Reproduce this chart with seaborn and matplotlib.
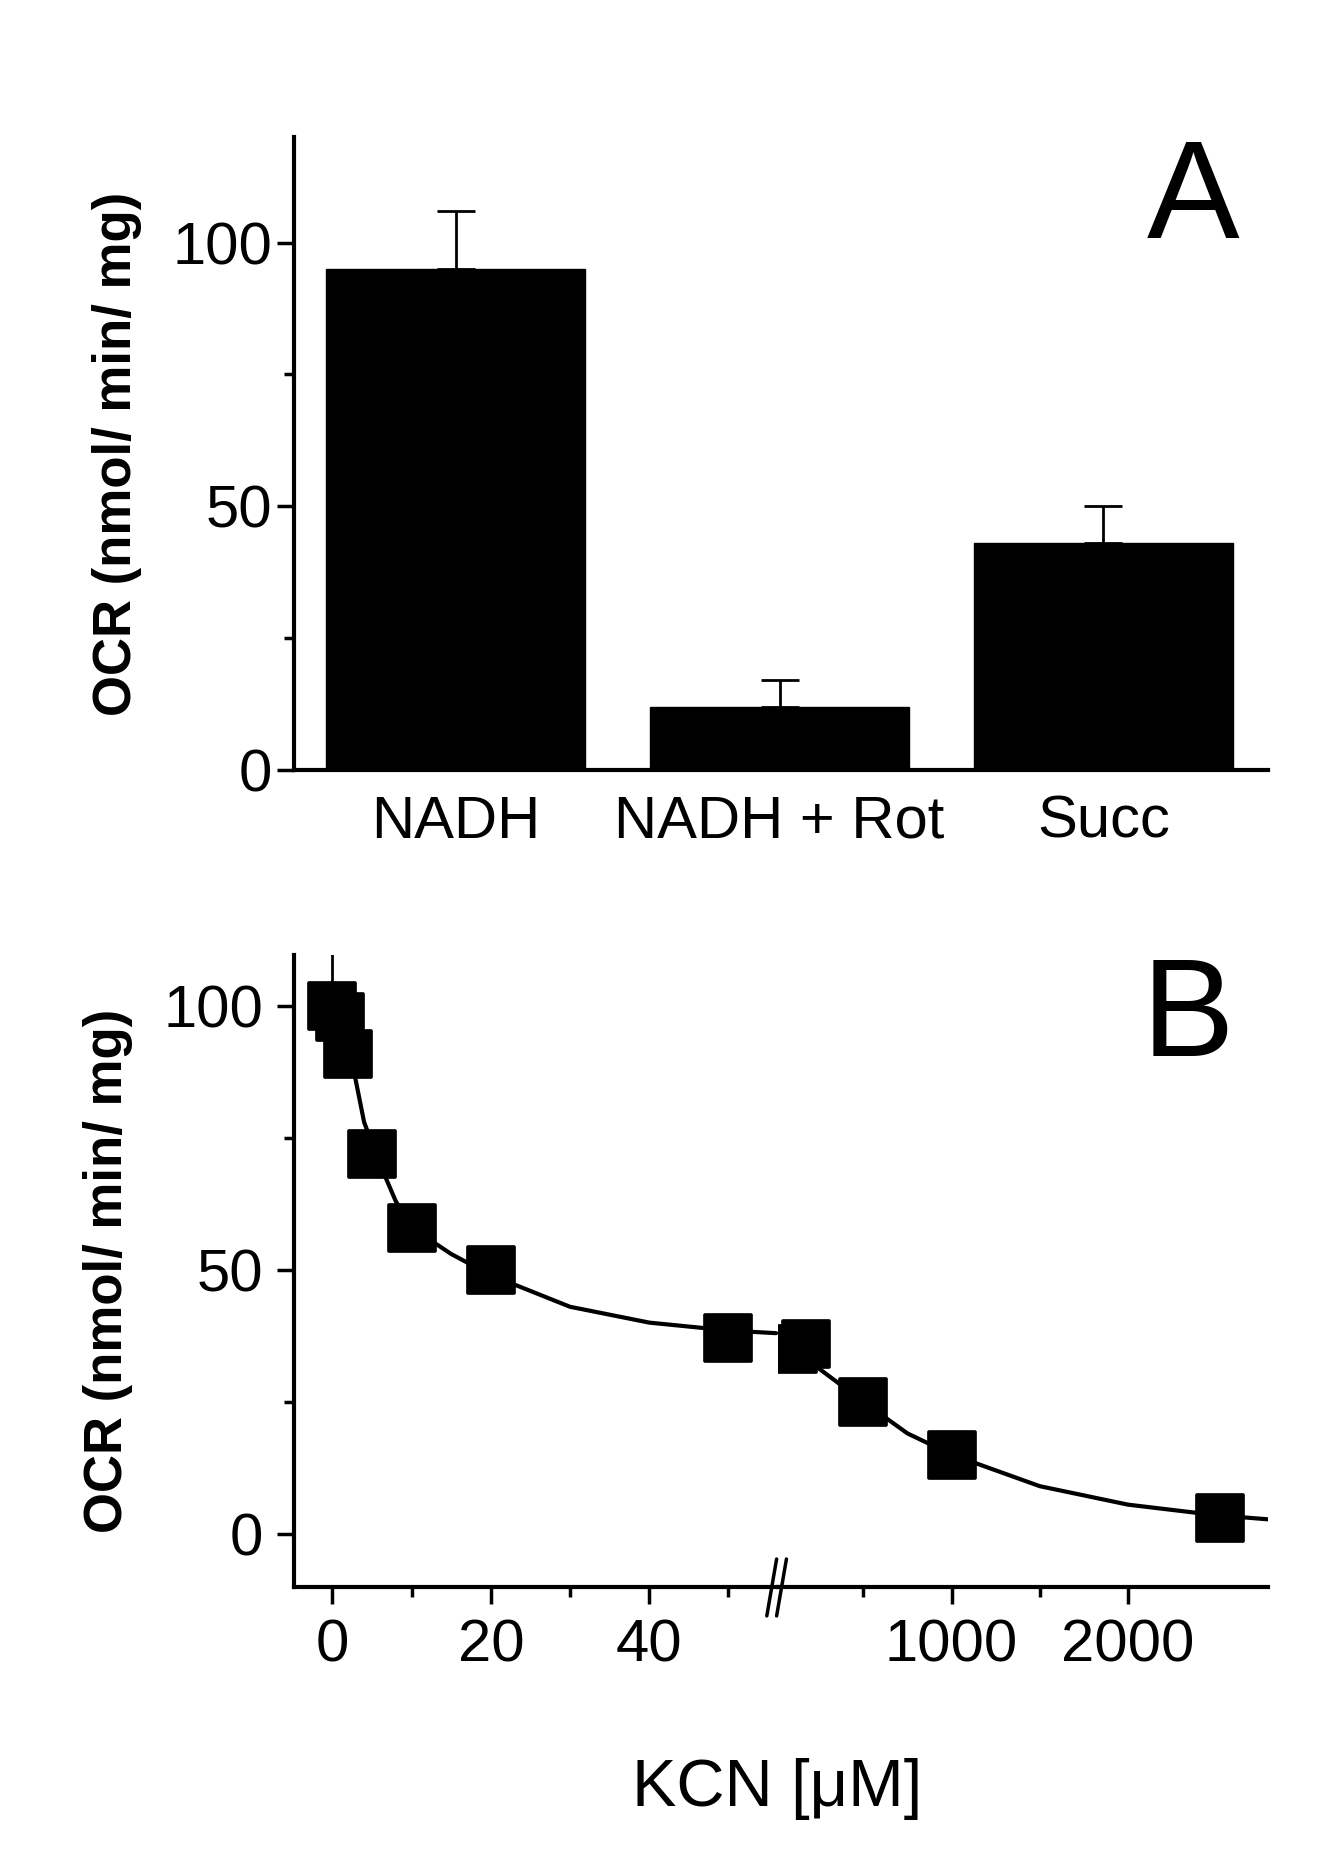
import matplotlib
matplotlib.use("Agg")
import matplotlib.pyplot as plt
import seaborn as sns
import pandas as pd

sns.set_style("ticks")
plt.rcParams["font.family"] = "Liberation Sans"
plt.rcParams["text.color"] = "black"
plt.rcParams["xtick.color"] = "black"
plt.rcParams["ytick.color"] = "black"
plt.rcParams["axes.labelcolor"] = "black"
plt.rcParams["axes.edgecolor"] = "black"

# Panel A data
categories = ["NADH", "NADH + Rot", "Succ"]
ocr_a = [95, 12, 43]
err_a = [11, 5, 7]

# Panel B data (broken axis)
kcn_low = [0, 1, 2, 5, 10, 20, 50]
ocr_low = [100, 98, 91, 72, 58, 50, 37]
err_first = [10]
kcn_high = [100, 175, 500, 1000, 2520]
ocr_high = [35, 36, 25, 15, 3]
fit_low_x = [2, 4, 6, 8, 10, 15, 20, 30, 40, 50, 56]
fit_low_y = [93, 78, 70, 63, 58, 53, 49, 43, 40, 38.5, 38]
fit_high_x = [14, 100, 300, 500, 750, 1000, 1500, 2000, 2500, 2800]
fit_high_y = [37, 35, 30, 25, 19, 15, 9, 5.5, 3.5, 2.7]

FS = 43
YL = 38
fig = plt.figure(figsize=(13.2, 18.62), dpi=100)
W, H = 1100, 1560
def rect(x0, y0, x1, y1):
    return [x0 / W, 1 - y1 / H, (x1 - x0) / W, (y1 - y0) / H]

# ---- Panel A
axA = fig.add_axes(rect(245, 115, 1057, 645))
dfA = pd.DataFrame({"cat": categories, "ocr": ocr_a})
sns.barplot(data=dfA, x="cat", y="ocr", color="black", width=0.8, ax=axA,
            edgecolor="black", saturation=1)
axA.errorbar(range(len(categories)), ocr_a, yerr=[[0]*3, err_a], fmt="none",
             ecolor="black", elinewidth=2, capsize=14, capthick=2)
axA.set_xlim(-0.5, 2.51)
axA.set_ylim(0, 120)
axA.set_yticks([0, 50, 100])
axA.set_yticks([25, 75], minor=True)
axA.tick_params(axis="x", length=0, labelsize=FS, pad=18)
axA.tick_params(axis="y", labelsize=FS, width=2.5, length=12, direction="out")
axA.tick_params(axis="y", which="minor", width=2.5, length=7)
axA.set_xlabel("")
axA.set_ylabel("OCR (nmol/ min/ mg)", fontsize=YL, fontweight="bold", labelpad=22)
for s in ["top", "right"]:
    axA.spines[s].set_visible(False)
for s in ["left", "bottom"]:
    axA.spines[s].set_linewidth(3)
axA.text(0.97, 1.0, "A", transform=axA.transAxes, ha="right", va="top", fontsize=100)

# ---- Panel B
axL = fig.add_axes(rect(245, 800, 648, 1330))
axR = fig.add_axes(rect(648, 800, 1057, 1330))
sns.lineplot(x=fit_low_x, y=fit_low_y, ax=axL, color="black", lw=3)
sns.lineplot(x=fit_high_x, y=fit_high_y, ax=axR, color="black", lw=3)
axL.errorbar(kcn_low[:1], ocr_low[:1], yerr=[[0], err_first], fmt="none",
             ecolor="black", elinewidth=2, capsize=14, capthick=2)
sns.scatterplot(x=kcn_low, y=ocr_low, ax=axL, marker="s", s=1100, color="black",
                edgecolor="black", zorder=5)
sns.scatterplot(x=kcn_high, y=ocr_high, ax=axR, marker="s", s=1100, color="black",
                edgecolor="black", zorder=5)
axL.set_xlim(-4.85, 56.2)
axR.set_xlim(14, 2796)
for ax in (axL, axR):
    ax.set_ylim(-10.2, 109.7)
axL.set_xticks([0, 20, 40]); axL.set_xticks([10, 30, 50], minor=True)
axR.set_xticks([1000, 2000]); axR.set_xticks([500, 1500], minor=True)
axL.set_yticks([0, 50, 100]); axL.set_yticks([25, 75], minor=True)
for ax in (axL, axR):
    ax.tick_params(labelsize=FS, width=2.5, length=12, direction="out", pad=10)
    ax.tick_params(which="minor", width=2.5, length=7)
    ax.spines["top"].set_visible(False)
    ax.spines["right"].set_visible(False)
    ax.spines["bottom"].set_linewidth(3)
    ax.spines["left"].set_linewidth(3)
    ax.patch.set_alpha(0)
axR.spines["left"].set_visible(False)
axR.set_yticks([])
axR.tick_params(axis="y", which="both", left=False, labelleft=False)
axL.set_ylabel("OCR (nmol/ min/ mg)", fontsize=YL, fontweight="bold", labelpad=22)
axR.set_ylabel("")
axL.set_xlabel("KCN [μM]", fontsize=48)
axL.xaxis.set_label_coords(1.0, -0.27)
# break marks
d = dict(transform=axR.transAxes, color="black", lw=2.5, clip_on=False)
for off in (-0.012, 0.008):
    axR.plot([off - 0.01, off + 0.01], [-0.045, 0.045], **d)
axR.text(0.93, 1.0, "B", transform=axR.transAxes, ha="right", va="top", fontsize=100)

fig.savefig("out.png", dpi=100, facecolor="white")
